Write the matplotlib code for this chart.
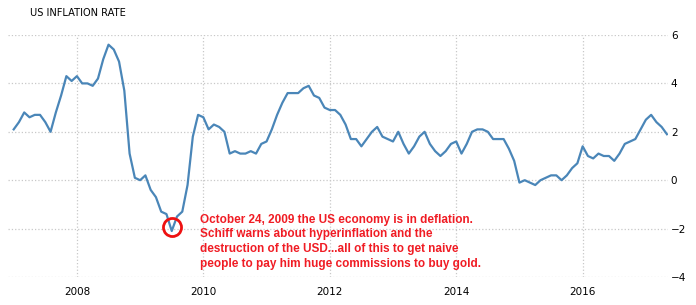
import numpy as np
import matplotlib
matplotlib.use('Agg')
import matplotlib.pyplot as plt

# monthly US CPI inflation, Jan 2007 - May 2017 (%)
start_year = 2007
cpi = [
    2.1, 2.4, 2.8, 2.6, 2.7, 2.7, 2.4, 2.0, 2.8, 3.5, 4.3, 4.1,   # 2007
    4.3, 4.0, 4.0, 3.9, 4.2, 5.0, 5.6, 5.4, 4.9, 3.7, 1.1, 0.1,   # 2008
    0.0, 0.2, -0.4, -0.7, -1.3, -1.4, -2.1, -1.5, -1.3, -0.2, 1.8, 2.7,  # 2009
    2.6, 2.1, 2.3, 2.2, 2.0, 1.1, 1.2, 1.1, 1.1, 1.2, 1.1, 1.5,   # 2010
    1.6, 2.1, 2.7, 3.2, 3.6, 3.6, 3.6, 3.8, 3.9, 3.5, 3.4, 3.0,   # 2011
    2.9, 2.9, 2.7, 2.3, 1.7, 1.7, 1.4, 1.7, 2.0, 2.2, 1.8, 1.7,   # 2012
    1.6, 2.0, 1.5, 1.1, 1.4, 1.8, 2.0, 1.5, 1.2, 1.0, 1.2, 1.5,   # 2013
    1.6, 1.1, 1.5, 2.0, 2.1, 2.1, 2.0, 1.7, 1.7, 1.7, 1.3, 0.8,   # 2014
    -0.1, 0.0, -0.1, -0.2, 0.0, 0.1, 0.2, 0.2, 0.0, 0.2, 0.5, 0.7,  # 2015
    1.4, 1.0, 0.9, 1.1, 1.0, 1.0, 0.8, 1.1, 1.5, 1.6, 1.7, 2.1,   # 2016
    2.5, 2.7, 2.4, 2.2, 1.9,                                        # 2017
]
years = [start_year + i / 12 for i in range(len(cpi))]
low_idx = int(np.argmin(cpi))

xticks = [2008, 2010, 2012, 2014, 2016]
yticks = [-4, -2, 0, 2, 4, 6]
note = ("October 24, 2009 the US economy is in deflation.\n"
        "Schiff warns about hyperinflation and the\n"
        "destruction of the USD...all of this to get naive\n"
        "people to pay him huge commissions to buy gold.")

fig = plt.figure(figsize=(6.96, 3.05), dpi=100)
ax = fig.add_axes([8 / 696, 1 - 277 / 305, 660 / 696, 242 / 305])

ax.plot(years, cpi, color='#4a86b8', lw=1.6, solid_joinstyle='round')
ax.plot(years[low_idx], cpi[low_idx] + 0.15, 'o', ms=13, mfc='none',
        mec='#ee1111', mew=2)

ax.set_xlim(2006.91, 2017.35)
ax.set_ylim(-4, 6)
ax.set_xticks(xticks)
ax.set_yticks(yticks)
ax.grid(True, color='#c8c8c8', ls=':', lw=0.9)
for s in ax.spines.values():
    s.set_visible(False)
ax.yaxis.tick_right()
ax.tick_params(length=0, labelsize=7.5, colors='black')
ax.tick_params(axis='y', pad=2)
ax.tick_params(axis='x', pad=7)

ax.text(0.291, 0.262, note, transform=ax.transAxes, color='#f01c24',
        fontsize=8.5, fontweight='bold', family='Liberation Sans',
        va='top', ha='left', linespacing=1.3)

fig.text(30 / 696, 1 - 13 / 305, 'US INFLATION RATE', fontsize=7.1,
         va='center', ha='left')

fig.savefig('out.png', dpi=100)
